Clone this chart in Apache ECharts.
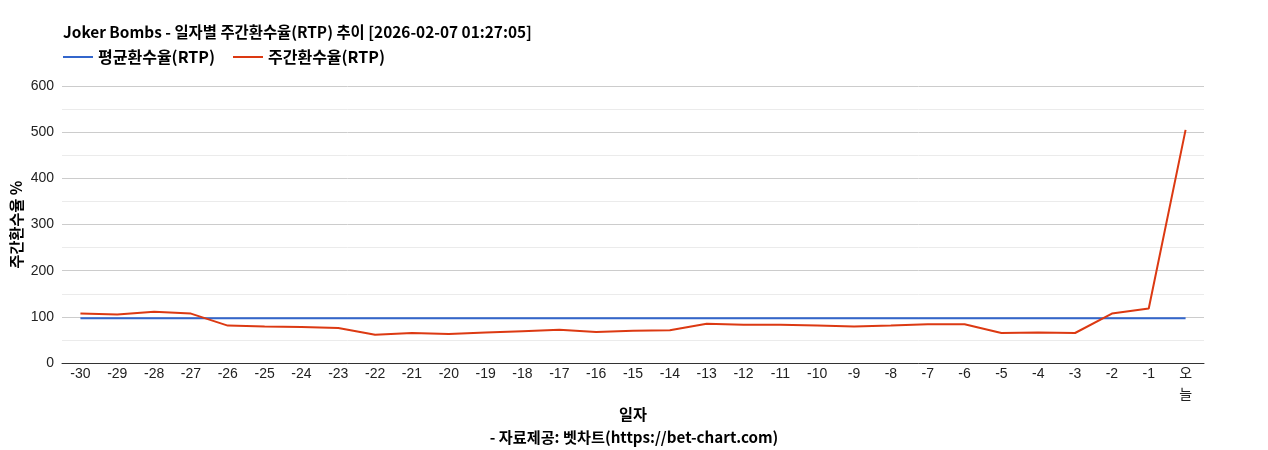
<!DOCTYPE html>
<html><head><meta charset="utf-8">
<script src="https://cdn.jsdelivr.net/npm/echarts@6/dist/echarts.min.js"></script>
<style>html,body{margin:0;padding:0;background:#fff}#c{width:1268px;height:450px}</style>
</head><body><div id="c"></div>
<script>
const categories = ['-30','-29','-28','-27','-26','-25','-24','-23','-22','-21','-20','-19','-18','-17','-16','-15','-14','-13','-12','-11','-10','-9','-8','-7','-6','-5','-4','-3','-2','-1','오늘'];
const avgRTP = [97,97,97,97,97,97,97,97,97,97,97,97,97,97,97,97,97,97,97,97,97,97,97,97,97,97,97,97,97,97,97];
const weeklyRTP = [107,105,111,107,81,79,78,76,61,65,63,66,69,72,67,70,71,85,83,83,81,79,81,84,84,65,66,65,107,118,505];
const titleText = 'Joker Bombs - 일자별 주간환수율(RTP) 추이 [2026-02-07 01:27:05]';
const footerText = '- 자료제공: 벳차트(https://bet-chart.com)';
const FONT = '"Liberation Sans","Noto Sans CJK KR",sans-serif';
const KFONT = '"Noto Sans CJK KR",sans-serif';
const chart = echarts.init(document.getElementById('c'));
chart.setOption({
  animation:false,
  textStyle:{fontFamily:FONT},
  title:[
    {text:titleText,left:58,top:19,textStyle:{fontSize:15.4,fontWeight:'bold',color:'#000',fontFamily:KFONT}},
    {text:footerText,left:'center',top:425,textStyle:{fontSize:15.2,fontWeight:'bold',color:'#000',fontFamily:KFONT}}
  ],
  legend:{
    left:58,top:44,itemWidth:30,itemHeight:2,itemGap:18,icon:'rect',
    textStyle:{fontSize:16,fontWeight:'bold',color:'#000',fontFamily:KFONT},
    data:['평균환수율(RTP)','주간환수율(RTP)']
  },
  grid:{left:62,right:64,top:86,bottom:87,containLabel:false},
  xAxis:{
    type:'category',data:categories,boundaryGap:true,
    name:'일자',nameLocation:'middle',nameGap:44,nameMoveOverlap:false,
    nameTextStyle:{fontSize:15.2,fontWeight:'bold',color:'#000',fontFamily:KFONT},
    axisLine:{lineStyle:{color:'#333',width:1}},
    axisTick:{show:false},
    axisLabel:{interval:0,fontSize:14,color:'#222',margin:1,lineHeight:21,formatter:v=>v==='오늘'?'오\n늘':v}
  },
  yAxis:{
    type:'value',min:0,max:600,interval:100,
    name:'주간환수율 %',nameLocation:'middle',nameGap:38,nameRotate:90,nameMoveOverlap:false,
    nameTextStyle:{fontSize:15.2,fontWeight:'bold',color:'#000',fontFamily:KFONT},
    axisLine:{show:false},axisTick:{show:false},
    axisLabel:{fontSize:14,color:'#222',margin:8},
    splitLine:{lineStyle:{color:'#cccccc'}},
    minorTick:{show:false,splitNumber:2},
    minorSplitLine:{show:true,lineStyle:{color:'#ebebeb'}}
  },
  series:[
    {name:'평균환수율(RTP)',type:'line',data:avgRTP,symbol:'none',color:'#3366cc',lineStyle:{width:2,color:'#3366cc'},z:2},
    {name:'주간환수율(RTP)',type:'line',data:weeklyRTP,symbol:'none',color:'#dc3912',lineStyle:{width:2,color:'#dc3912'},z:3}
  ]
});
</script></body></html>
